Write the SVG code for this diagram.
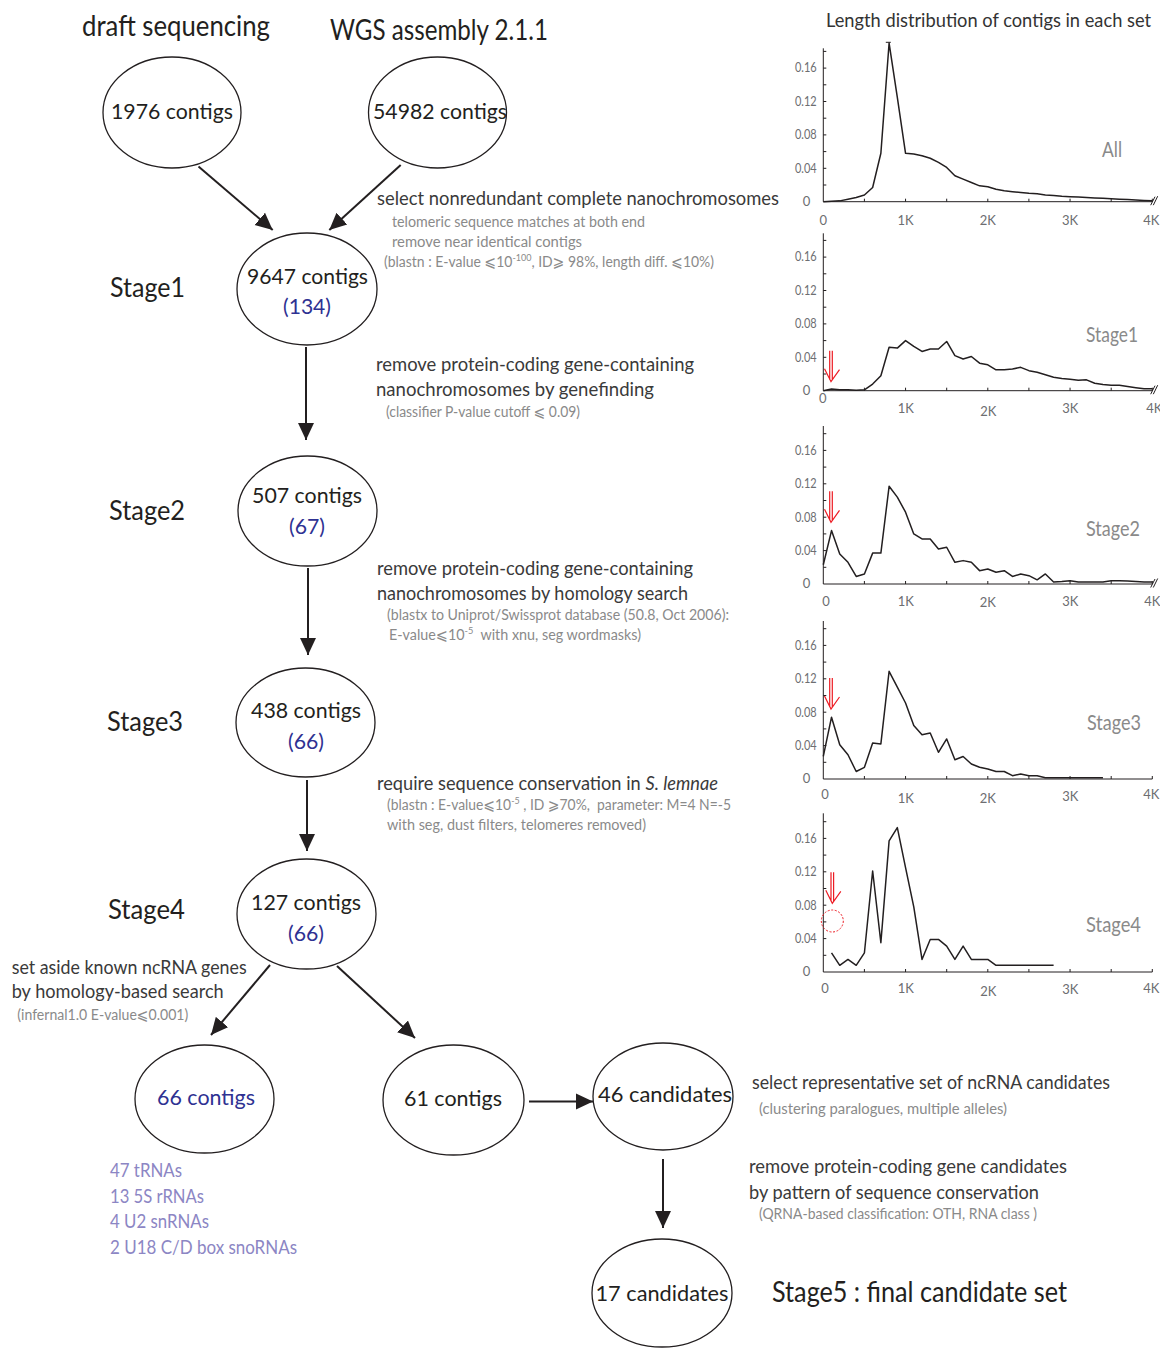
<svg xmlns="http://www.w3.org/2000/svg" xmlns:xlink="http://www.w3.org/1999/xlink" width="1160" height="1352" viewBox="0 0 1160 1352">
<style>
text{font-family:Lato,"Open Sans","DejaVu Sans",sans-serif}
.n{fill:none;stroke:#231f20;stroke-width:1.3}
.nt{font-size:22px;fill:#231f20;text-anchor:middle}
.bl{fill:#2e3192}
.st{font-size:26px;fill:#231f20}
.hd{font-size:28px;fill:#231f20}
.an{font-size:20px;fill:#3a3a3a}
.sm{font-size:15.5px;fill:#8a8a8a}
.li{font-size:18.5px;fill:#8c86c4}
.ax{stroke:#231f20;stroke-width:1;fill:none}
.al{font-size:13px;fill:#6d6e71}
.xl{font-size:13px;fill:#6d6e71;text-anchor:middle}
.cl{font-size:21px;fill:#8a8a8a}
.cv{fill:none;stroke:#231f20;stroke-width:1.5;vector-effect:non-scaling-stroke;stroke-linejoin:round}
.ar{stroke:#231f20;stroke-width:2;fill:none;marker-end:url(#ah)}
</style>
<defs>
<marker id="ah" markerUnits="userSpaceOnUse" markerWidth="18" markerHeight="18" viewBox="0 0 18 18" refX="17" refY="9" orient="auto"><path d="M0,1 L17,9 L0,17 z" fill="#231f20"/></marker>
<path id="ticks" class="ax" d="M0,-16.7h3M0,-33.4h3M0,-50.1h3M0,-66.8h3M0,-83.5h3M0,-100.2h3M0,-116.9h3M0,-133.6h3M0,-150.3h3M41.1,0v-3M82.25,0v-3M123.4,0v-3M164.5,0v-3M205.6,0v-3M246.75,0v-3M287.9,0v-3M329,0v-3"/>
<path id="brk" class="ax" d="M327.4,3.5L331.7,-5M330,3.5L334.4,-5.5"/>
<g id="ra" fill="none" stroke="#ed1c24" stroke-width="1.2"><path d="M-1.3,-31V-2M1.3,-31V-2M-6.5,-13L0,0L8.5,-12"/></g>
</defs>
<rect width="1160" height="1352" fill="#ffffff"/>

<!-- headings -->
<text class="hd" x="82" y="36" textLength="188" lengthAdjust="spacingAndGlyphs">draft sequencing</text>
<text class="hd" x="330" y="40" textLength="218" lengthAdjust="spacingAndGlyphs">WGS assembly 2.1.1</text>
<text x="826" y="27" font-size="19" fill="#333" textLength="325" lengthAdjust="spacingAndGlyphs">Length distribution of contigs in each set</text>

<!-- stage labels -->
<text class="st" x="110" y="297" textLength="75" lengthAdjust="spacingAndGlyphs">Stage1</text>
<text class="st" x="109" y="520" textLength="76" lengthAdjust="spacingAndGlyphs">Stage2</text>
<text class="st" x="107" y="731" textLength="76" lengthAdjust="spacingAndGlyphs">Stage3</text>
<text class="st" x="108" y="919" textLength="77" lengthAdjust="spacingAndGlyphs">Stage4</text>
<text class="hd" x="772" y="1302" textLength="295" lengthAdjust="spacingAndGlyphs">Stage5 : final candidate set</text>

<!-- nodes -->
<g id="n1976"><ellipse class="n" cx="172" cy="112.5" rx="69" ry="55.5"/><text class="nt" x="172" y="119" textLength="122" lengthAdjust="spacingAndGlyphs">1976 contigs</text></g>
<g id="n54982"><ellipse class="n" cx="437.5" cy="112.5" rx="69" ry="55.5"/><text class="nt" x="440" y="119" textLength="134" lengthAdjust="spacingAndGlyphs">54982 contigs</text></g>
<g id="n9647"><ellipse class="n" cx="307" cy="289" rx="70" ry="56"/><text class="nt" x="307.5" y="284" textLength="121" lengthAdjust="spacingAndGlyphs">9647 contigs</text><text class="nt bl" x="307" y="314" textLength="48" lengthAdjust="spacingAndGlyphs">(134)</text></g>
<g id="n507"><ellipse class="n" cx="307.5" cy="511" rx="69.5" ry="55"/><text class="nt" x="307" y="503" textLength="110" lengthAdjust="spacingAndGlyphs">507 contigs</text><text class="nt bl" x="307" y="534" textLength="36" lengthAdjust="spacingAndGlyphs">(67)</text></g>
<g id="n438"><ellipse class="n" cx="305.5" cy="722.5" rx="69.5" ry="54.5"/><text class="nt" x="306" y="718" textLength="110" lengthAdjust="spacingAndGlyphs">438 contigs</text><text class="nt bl" x="306" y="749" textLength="36" lengthAdjust="spacingAndGlyphs">(66)</text></g>
<g id="n127"><ellipse class="n" cx="306.5" cy="914" rx="69.5" ry="55"/><text class="nt" x="306" y="910" textLength="110" lengthAdjust="spacingAndGlyphs">127 contigs</text><text class="nt bl" x="306" y="941" textLength="36" lengthAdjust="spacingAndGlyphs">(66)</text></g>
<g id="n66"><ellipse class="n" cx="204.5" cy="1099" rx="69.5" ry="54"/><text class="nt bl" x="206" y="1105" textLength="98" lengthAdjust="spacingAndGlyphs">66 contigs</text></g>
<g id="n61"><ellipse class="n" cx="453.5" cy="1100" rx="70.5" ry="55"/><text class="nt" x="453" y="1106" textLength="98" lengthAdjust="spacingAndGlyphs">61 contigs</text></g>
<g id="n46"><ellipse class="n" cx="663" cy="1096.5" rx="70" ry="53.5"/><text class="nt" x="665" y="1102" textLength="134" lengthAdjust="spacingAndGlyphs">46 candidates</text></g>
<g id="n17"><ellipse class="n" cx="662" cy="1293" rx="70" ry="54"/><text class="nt" x="662" y="1301" textLength="133" lengthAdjust="spacingAndGlyphs">17 candidates</text></g>

<!-- connectors -->
<g id="connectors">
<line class="ar" x1="198.5" y1="166.5" x2="272.7" y2="230"/>
<line class="ar" x1="400.7" y1="165" x2="329.3" y2="230"/>
<line class="ar" x1="306" y1="347" x2="306" y2="440"/>
<line class="ar" x1="308" y1="568" x2="308" y2="655"/>
<line class="ar" x1="307" y1="780" x2="307" y2="851"/>
<line class="ar" x1="270" y1="965" x2="211" y2="1035"/>
<line class="ar" x1="337" y1="966" x2="415" y2="1038"/>
<line class="ar" x1="529" y1="1101.5" x2="593" y2="1101.5"/>
<line class="ar" x1="663" y1="1159" x2="663" y2="1228"/>
</g>

<!-- annotations -->
<text class="an" x="377" y="205" textLength="402" lengthAdjust="spacingAndGlyphs">select nonredundant complete nanochromosomes</text>
<text class="sm" x="392" y="227" textLength="253" lengthAdjust="spacingAndGlyphs">telomeric sequence matches at both end</text>
<text class="sm" x="392" y="247" textLength="190" lengthAdjust="spacingAndGlyphs">remove near identical contigs</text>
<text class="sm" x="384" y="267" textLength="330" lengthAdjust="spacingAndGlyphs">(blastn : E-value ⩽10<tspan dy="-6" font-size="10">-100</tspan><tspan dy="6">, ID⩾ 98%, length diff. ⩽10%)</tspan></text>

<text class="an" x="376" y="371" textLength="318" lengthAdjust="spacingAndGlyphs">remove protein-coding gene-containing</text>
<text class="an" x="376" y="396" textLength="278" lengthAdjust="spacingAndGlyphs">nanochromosomes by genefinding</text>
<text class="sm" x="386" y="417" textLength="194" lengthAdjust="spacingAndGlyphs">(classifier P-value cutoff ⩽ 0.09)</text>

<text class="an" x="377" y="575" textLength="316" lengthAdjust="spacingAndGlyphs">remove protein-coding gene-containing</text>
<text class="an" x="377" y="600" textLength="311" lengthAdjust="spacingAndGlyphs">nanochromosomes by homology search</text>
<text class="sm" x="387" y="620" textLength="342" lengthAdjust="spacingAndGlyphs">(blastx to Uniprot/Swissprot database (50.8, Oct 2006):</text>
<text class="sm" x="389" y="640" textLength="252" lengthAdjust="spacingAndGlyphs" xml:space="preserve">E-value⩽10<tspan dy="-6" font-size="10">-5</tspan><tspan dy="6">  with xnu, seg wordmasks)</tspan></text>

<text class="an" x="377" y="790" textLength="341" lengthAdjust="spacingAndGlyphs">require sequence conservation in <tspan font-style="italic">S. lemnae</tspan></text>
<text class="sm" x="387" y="810" textLength="344" lengthAdjust="spacingAndGlyphs" xml:space="preserve">(blastn : E-value⩽10<tspan dy="-6" font-size="10">-5</tspan><tspan dy="6"> , ID ⩾70%,  parameter: M=4 N=-5</tspan></text>
<text class="sm" x="387" y="830" textLength="259" lengthAdjust="spacingAndGlyphs">with seg, dust filters, telomeres removed)</text>

<text class="an" x="11.7" y="974" textLength="235" lengthAdjust="spacingAndGlyphs">set aside known ncRNA genes</text>
<text class="an" x="11.7" y="998" textLength="212" lengthAdjust="spacingAndGlyphs">by homology-based search</text>
<text class="sm" x="17.3" y="1020" textLength="171" lengthAdjust="spacingAndGlyphs">(infernal1.0 E-value⩽0.001)</text>

<text class="li" x="110" y="1177" textLength="72" lengthAdjust="spacingAndGlyphs">47 tRNAs</text>
<text class="li" x="110" y="1203" textLength="94" lengthAdjust="spacingAndGlyphs">13 5S rRNAs</text>
<text class="li" x="110" y="1228" textLength="99" lengthAdjust="spacingAndGlyphs">4 U2 snRNAs</text>
<text class="li" x="110" y="1254" textLength="187" lengthAdjust="spacingAndGlyphs">2 U18 C/D box snoRNAs</text>

<text class="an" x="752" y="1089" textLength="358" lengthAdjust="spacingAndGlyphs">select representative set of ncRNA candidates</text>
<text class="sm" x="759" y="1114" textLength="248" lengthAdjust="spacingAndGlyphs">(clustering paralogues, multiple alleles)</text>
<text class="an" x="749" y="1173" textLength="318" lengthAdjust="spacingAndGlyphs">remove protein-coding gene candidates</text>
<text class="an" x="749" y="1199" textLength="290" lengthAdjust="spacingAndGlyphs">by pattern of sequence conservation</text>
<text class="sm" x="759" y="1219" textLength="278" lengthAdjust="spacingAndGlyphs">(QRNA-based classification: OTH, RNA class )</text>

<!-- chart All -->
<g transform="translate(823.3,201.7)">
<path class="ax" d="M0,-153.4V0H329"/>
<use href="#ticks"/><use href="#brk"/>
<polyline class="cv" transform="scale(82.25,-835)" points="0,0 0.1,0.0005 0.2,0.001 0.3,0.003 0.4,0.005 0.5,0.008 0.6,0.017 0.7,0.058 0.8,0.19 0.9,0.125 1.0,0.058 1.1,0.057 1.2,0.055 1.3,0.052 1.4,0.047 1.5,0.041 1.6,0.031 1.7,0.027 1.8,0.023 1.9,0.019 2.0,0.018 2.1,0.015 2.2,0.013 2.3,0.012 2.4,0.011 2.5,0.010 2.6,0.0095 2.7,0.008 2.8,0.0075 2.9,0.0065 3.0,0.006 3.1,0.0055 3.2,0.005 3.3,0.0045 3.4,0.004 3.5,0.0035 3.6,0.003 3.7,0.0025 3.8,0.002 3.9,0.0015 4.0,0.001"/>
<path class="ax" d="M62.5,-159.4h5"/>
<text class="al" x="-6.6" y="-129.3" text-anchor="end" textLength="21.7" lengthAdjust="spacingAndGlyphs">0.16</text>
<text class="al" x="-6.6" y="-95.9" text-anchor="end" textLength="21.7" lengthAdjust="spacingAndGlyphs">0.12</text>
<text class="al" x="-6.6" y="-62.5" text-anchor="end" textLength="21.7" lengthAdjust="spacingAndGlyphs">0.08</text>
<text class="al" x="-6.6" y="-29.1" text-anchor="end" textLength="21.7" lengthAdjust="spacingAndGlyphs">0.04</text>
<text class="al" x="-13" y="4.3" text-anchor="end">0</text>
<text class="xl" x="0" y="23">0</text>
<text class="xl" x="82.25" y="23">1K</text>
<text class="xl" x="164.5" y="23">2K</text>
<text class="xl" x="246.75" y="23">3K</text>
<text class="xl" x="328" y="23">4K</text>
</g>
<text class="cl" x="1102" y="157" textLength="20" lengthAdjust="spacingAndGlyphs">All</text>

<!-- chart Stage1 -->
<g transform="translate(823.3,390.7)">
<path class="ax" d="M0,-157.4V0H329"/>
<use href="#ticks"/><use href="#brk"/>
<polyline class="cv" transform="scale(82.25,-835)" points="0,0 0.1,0.002 0.2,0.001 0.3,0.001 0.4,0.0005 0.5,0.001 0.6,0.008 0.7,0.018 0.8,0.052 0.9,0.051 1.0,0.06 1.1,0.053 1.2,0.047 1.3,0.05 1.4,0.05 1.5,0.059 1.6,0.042 1.7,0.038 1.8,0.041 1.9,0.033 2.0,0.031 2.1,0.025 2.2,0.025 2.3,0.026 2.4,0.028 2.5,0.024 2.6,0.022 2.7,0.019 2.8,0.016 2.9,0.0145 3.0,0.0137 3.1,0.0125 3.2,0.013 3.3,0.009 3.4,0.0073 3.5,0.0065 3.6,0.0065 3.7,0.005 3.8,0.0036 3.9,0.0024 4.0,0.0024"/>
<text class="al" x="-6.6" y="-129.3" text-anchor="end" textLength="21.7" lengthAdjust="spacingAndGlyphs">0.16</text>
<text class="al" x="-6.6" y="-95.9" text-anchor="end" textLength="21.7" lengthAdjust="spacingAndGlyphs">0.12</text>
<text class="al" x="-6.6" y="-62.5" text-anchor="end" textLength="21.7" lengthAdjust="spacingAndGlyphs">0.08</text>
<text class="al" x="-6.6" y="-29.1" text-anchor="end" textLength="21.7" lengthAdjust="spacingAndGlyphs">0.04</text>
<text class="al" x="-13" y="4.3" text-anchor="end">0</text>
<text class="xl" x="-0.6" y="12">0</text>
<text class="xl" x="82.5" y="22">1K</text>
<text class="xl" x="165" y="25">2K</text>
<text class="xl" x="247" y="22.5">3K</text>
<text class="xl" x="331" y="22">4K</text>
</g>
<use href="#ra" x="831" y="381.7"/>
<text class="cl" x="1086" y="342" textLength="52" lengthAdjust="spacingAndGlyphs">Stage1</text>

<!-- chart Stage2 -->
<g transform="translate(823.3,584)">
<path class="ax" d="M0,-158V0H329"/>
<use href="#ticks"/><use href="#brk"/>
<polyline class="cv" transform="scale(82.25,-835)" points="0,0.023 0.1,0.064 0.2,0.036 0.3,0.026 0.4,0.009 0.5,0.012 0.6,0.037 0.7,0.037 0.8,0.117 0.9,0.104 1.0,0.086 1.1,0.06 1.2,0.054 1.3,0.054 1.4,0.042 1.5,0.044 1.6,0.026 1.7,0.028 1.8,0.026 1.9,0.016 2.0,0.018 2.1,0.014 2.2,0.016 2.3,0.009 2.4,0.012 2.5,0.01 2.6,0.005 2.7,0.012 2.8,0.0024 2.9,0.003 3.0,0.004 3.1,0.0024 3.2,0.0024 3.3,0.0024 3.4,0.0024 3.5,0.004 3.6,0.004 3.7,0.0035 3.8,0.003 3.9,0.0025 4.0,0.0024"/>
<text class="al" x="-6.6" y="-129.3" text-anchor="end" textLength="21.7" lengthAdjust="spacingAndGlyphs">0.16</text>
<text class="al" x="-6.6" y="-95.9" text-anchor="end" textLength="21.7" lengthAdjust="spacingAndGlyphs">0.12</text>
<text class="al" x="-6.6" y="-62.5" text-anchor="end" textLength="21.7" lengthAdjust="spacingAndGlyphs">0.08</text>
<text class="al" x="-6.6" y="-29.1" text-anchor="end" textLength="21.7" lengthAdjust="spacingAndGlyphs">0.04</text>
<text class="al" x="-13" y="4.3" text-anchor="end">0</text>
<text class="xl" x="2.7" y="22">0</text>
<text class="xl" x="82.5" y="22">1K</text>
<text class="xl" x="164.5" y="23">2K</text>
<text class="xl" x="247" y="22">3K</text>
<text class="xl" x="329" y="22">4K</text>
</g>
<use href="#ra" x="831" y="522.3"/>
<text class="cl" x="1086" y="536" textLength="54" lengthAdjust="spacingAndGlyphs">Stage2</text>

<!-- chart Stage3 -->
<g transform="translate(823.3,779)">
<path class="ax" d="M0,-158V0H329"/>
<use href="#ticks"/>
<polyline class="cv" transform="scale(82.25,-835)" points="0,0.027 0.1,0.074 0.2,0.041 0.3,0.029 0.4,0.009 0.5,0.014 0.6,0.043 0.7,0.042 0.8,0.129 0.9,0.11 1.0,0.091 1.1,0.064 1.2,0.053 1.3,0.055 1.4,0.032 1.5,0.048 1.6,0.023 1.7,0.027 1.8,0.018 1.9,0.014 2.0,0.012 2.1,0.009 2.2,0.009 2.3,0.004 2.4,0.006 2.5,0.004 2.6,0.004 2.7,0.0016 3.4,0.0016"/>
<text class="al" x="-6.6" y="-129.3" text-anchor="end" textLength="21.7" lengthAdjust="spacingAndGlyphs">0.16</text>
<text class="al" x="-6.6" y="-95.9" text-anchor="end" textLength="21.7" lengthAdjust="spacingAndGlyphs">0.12</text>
<text class="al" x="-6.6" y="-62.5" text-anchor="end" textLength="21.7" lengthAdjust="spacingAndGlyphs">0.08</text>
<text class="al" x="-6.6" y="-29.1" text-anchor="end" textLength="21.7" lengthAdjust="spacingAndGlyphs">0.04</text>
<text class="al" x="-13" y="4.3" text-anchor="end">0</text>
<text class="xl" x="1.7" y="20.3">0</text>
<text class="xl" x="82.5" y="23.6">1K</text>
<text class="xl" x="164.5" y="23.6">2K</text>
<text class="xl" x="247" y="22">3K</text>
<text class="xl" x="328" y="20.3">4K</text>
</g>
<use href="#ra" x="831" y="709"/>
<text class="cl" x="1087" y="730" textLength="54" lengthAdjust="spacingAndGlyphs">Stage3</text>

<!-- chart Stage4 -->
<g transform="translate(823.3,972)">
<path class="ax" d="M0,-158.7V0H329"/>
<use href="#ticks"/>
<polyline class="cv" transform="scale(82.25,-835)" points="0.1,0.023 0.2,0.008 0.3,0.015 0.4,0.008 0.5,0.023 0.6,0.121 0.7,0.035 0.8,0.157 0.9,0.173 1.0,0.125 1.1,0.078 1.2,0.015 1.3,0.039 1.4,0.039 1.5,0.031 1.6,0.015 1.7,0.031 1.8,0.015 2.0,0.015 2.1,0.008 2.8,0.008"/>
<text class="al" x="-6.6" y="-129.3" text-anchor="end" textLength="21.7" lengthAdjust="spacingAndGlyphs">0.16</text>
<text class="al" x="-6.6" y="-95.9" text-anchor="end" textLength="21.7" lengthAdjust="spacingAndGlyphs">0.12</text>
<text class="al" x="-6.6" y="-62.5" text-anchor="end" textLength="21.7" lengthAdjust="spacingAndGlyphs">0.08</text>
<text class="al" x="-6.6" y="-29.1" text-anchor="end" textLength="21.7" lengthAdjust="spacingAndGlyphs">0.04</text>
<text class="al" x="-13" y="4.3" text-anchor="end">0</text>
<text class="xl" x="1.7" y="20.6">0</text>
<text class="xl" x="82.5" y="20.6">1K</text>
<text class="xl" x="165" y="24">2K</text>
<text class="xl" x="247" y="22.3">3K</text>
<text class="xl" x="328" y="20.6">4K</text>
</g>
<use href="#ra" x="832.3" y="903.3"/>
<circle cx="832.3" cy="921" r="11" fill="none" stroke="#ed1c24" stroke-width="1" stroke-dasharray="2 1.6"/>
<text class="cl" x="1086" y="932" textLength="55" lengthAdjust="spacingAndGlyphs">Stage4</text>
</svg>
